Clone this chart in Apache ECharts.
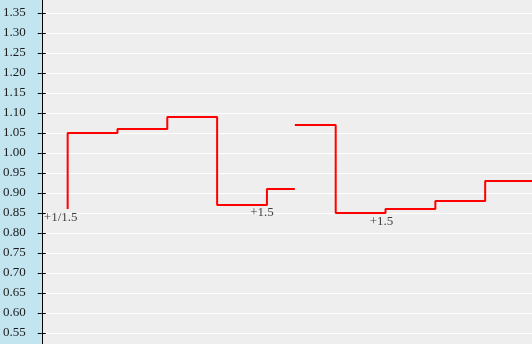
<!DOCTYPE html>
<html><head><meta charset="utf-8">
<script src="https://cdn.jsdelivr.net/npm/echarts@6/dist/echarts.min.js"></script>
<style>html,body{margin:0;padding:0;}#c{width:532px;height:344px;}</style>
</head><body><div id="c"></div>
<script>
// x positions in time units (arbitrary), y = odds
const seg1X = [26, 26, 76, 126, 176, 226, 254];
const seg1Y = [0.86, 1.05, 1.06, 1.09, 0.87, 0.91, 0.91];
const seg2X = [254, 295, 345, 395, 445, 492];
const seg2Y = [1.07, 0.85, 0.86, 0.88, 0.93, 0.93];
const noteX = [19, 221, 341];
const noteY = [0.8375, 0.85, 0.8275];
const noteText = ['+1/1.5', '+1.5', '+1.5'];
const yTicks = [0.55, 0.60, 0.65, 0.70, 0.75, 0.80, 0.85, 0.90, 0.95, 1.00, 1.05, 1.10, 1.15, 1.20, 1.25, 1.30, 1.35];

const zip = (xs, ys) => xs.map((x, i) => [x, ys[i]]);
const yMin = 0.5225, yMax = 1.3825;

const chart = echarts.init(document.getElementById('c'), null, {renderer: 'canvas'});
chart.setOption({
  animation: false,
  backgroundColor: '#c2e5f0',
  grid: {left: 40, right: 0, top: 0, bottom: 0, show: true, backgroundColor: '#eeeeee', borderWidth: 0},
  xAxis: {type: 'value', min: 0, max: 492, show: false},
  yAxis: [{
    type: 'value', min: yMin, max: yMax, position: 'left',
    axisLine: {show: true, lineStyle: {color: '#000', width: 1}},
    axisTick: {show: true, length: 4, customValues: yTicks, lineStyle: {color: '#000'}},
    axisLabel: {margin: 16, color: '#1a1a1a', fontFamily: 'Liberation Serif', fontSize: 13,
      customValues: yTicks, padding: [0, 0, 6, 0], formatter: v => v.toFixed(2)},
    splitLine: {show: true, lineStyle: {color: '#ffffff', width: 1}}
  }, {
    type: 'value', min: yMin, max: yMax, position: 'left',
    axisLine: {show: false},
    axisTick: {show: true, inside: true, length: 4, customValues: yTicks, lineStyle: {color: '#000'}},
    axisLabel: {show: false}, splitLine: {show: false}
  }],
  series: [
    {type: 'line', data: zip(seg1X, seg1Y), step: 'end', showSymbol: false, symbol: 'none',
      lineStyle: {color: '#ff0000', width: 2}},
    {type: 'line', data: zip(seg2X, seg2Y), step: 'end', showSymbol: false, symbol: 'none',
      lineStyle: {color: '#ff0000', width: 2}},
    {type: 'scatter', symbolSize: 0, data: noteX.map((x, i) => ({value: [x, noteY[i]], name: noteText[i]})),
      label: {show: true, position: 'inside', formatter: p => p.name, color: '#111',
        fontFamily: 'Liberation Serif', fontSize: 13}}
  ]
});
</script></body></html>
